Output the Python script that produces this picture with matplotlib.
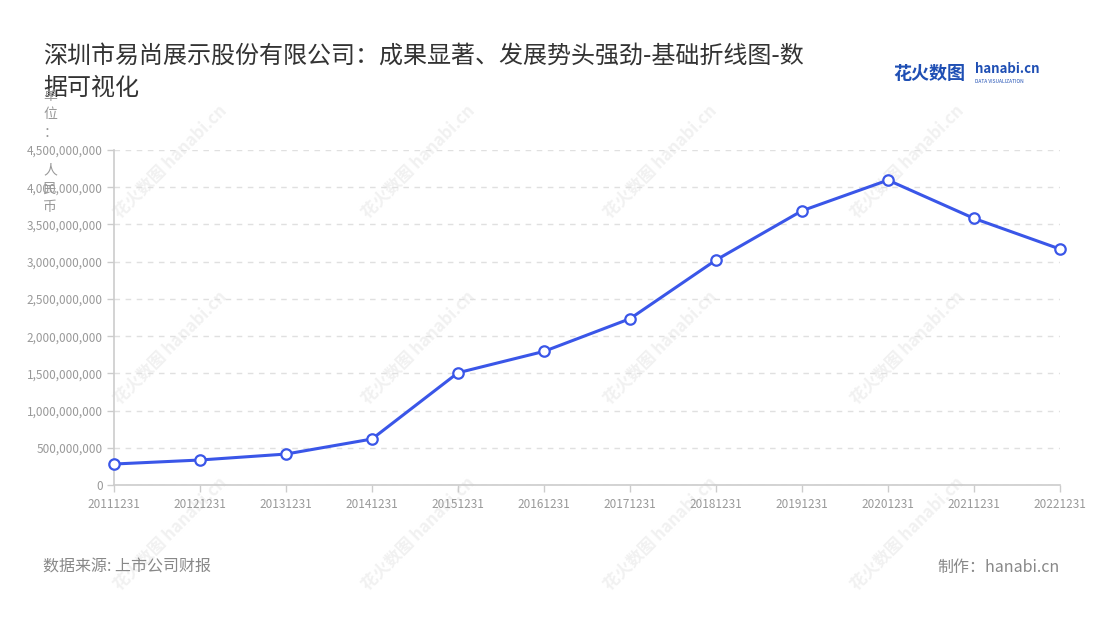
import matplotlib.pyplot as plt
from matplotlib.ticker import FuncFormatter

plt.rcParams['font.family'] = ['Noto Sans CJK SC', 'DejaVu Sans']

# data
dates = ['20111231', '20121231', '20131231', '20141231', '20151231', '20161231',
         '20171231', '20181231', '20191231', '20201231', '20211231', '20221231']
revenue = [2.82e8, 3.36e8, 4.16e8, 6.18e8, 1.508e9, 1.795e9,
           2.234e9, 3.022e9, 3.684e9, 4.096e9, 3.582e9, 3.170e9]
yticks = [0, 5e8, 1e9, 1.5e9, 2e9, 2.5e9, 3e9, 3.5e9, 4e9, 4.5e9]

title = '深圳市易尚展示股份有限公司：成果显著、发展势头强劲-基础折线图-数\n据可视化'
source = '数据来源: 上市公司财报'
maker = '制作：hanabi.cn'

fig = plt.figure(figsize=(11, 6.2), dpi=100)
ax = fig.add_axes([0.1036, 0.2177, 0.86, 0.5403])
ax.set_zorder(2)

# faint watermarks
for wx in [0.155, 0.38, 0.6, 0.825]:
    for wy in [0.74, 0.44, 0.14]:
        fig.text(wx, wy, '花火数图 hanabi.cn', rotation=45, color='#f1f1f1',
                 fontsize=12, fontweight='bold', ha='center', va='center', zorder=-1)

x = range(len(dates))
ax.plot(x, revenue, color='#3a56e8', lw=2.2, marker='o', ms=7.5,
        mfc='white', mec='#3a56e8', mew=1.6, zorder=5, clip_on=False)

ax.set_xlim(0, len(dates) - 1)
ax.set_ylim(0, 4.5e9)
ax.set_xticks(list(x))
ax.set_xticklabels(dates)
ax.set_yticks(yticks)
ax.yaxis.set_major_formatter(FuncFormatter(lambda v, p: f'{int(v):,}'))
ax.tick_params(axis='both', colors='#cccccc', labelcolor='#999999', labelsize=8.5,
               length=5, width=1)
ax.tick_params(axis='x', pad=4)
ax.tick_params(axis='y', pad=3)
ax.grid(axis='y', color='#e0e0e0', ls=(0, (4, 4)), lw=1)
ax.set_axisbelow(True)
for s in ['top', 'right']:
    ax.spines[s].set_visible(False)
for s in ['left', 'bottom']:
    ax.spines[s].set_color('#cccccc')
    ax.spines[s].set_linewidth(1.2)
ax.patch.set_alpha(0)

fig.text(0.039, 0.93, title, fontsize=17.3, color='#333333', va='top',
         linespacing=1.3)
fig.text(0.0455, 0.857, '单\n位\n：\n\n人\n民\n币', fontsize=10, color='#999999',
         va='top', ha='center', linespacing=1.42)

# logo
fig.text(0.812, 0.882, '花火数图', fontsize=13, color='#1f4fb4', fontweight='bold',
         va='center')
fig.text(0.886, 0.888, 'hanabi.cn', fontsize=9.5, color='#1f4fb4', fontweight='bold',
         va='center')
fig.text(0.886, 0.869, 'DATA VISUALIZATION', fontsize=3.5, color='#1f4fb4',
         va='center')

fig.text(0.039, 0.085, source, fontsize=11.5, color='#888888', va='center')
fig.text(0.9636, 0.085, maker, fontsize=11.5, color='#888888', va='center', ha='right')

fig.savefig('out.png', dpi=100)
